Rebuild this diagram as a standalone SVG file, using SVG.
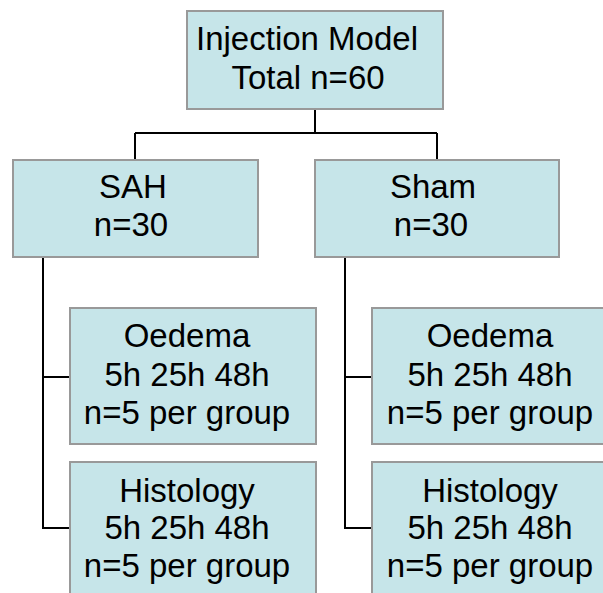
<svg xmlns="http://www.w3.org/2000/svg" width="603" height="593" viewBox="0 0 603 593">
<style>
.box{fill:#C6E5E9;stroke:#999999;stroke-width:2}
.t{font-family:"Liberation Sans",Arial,sans-serif;font-size:33px;fill:#000;text-anchor:middle}
.c{fill:none;stroke:#000;stroke-width:2}
</style>
<rect width="603" height="593" fill="#fff"/>
<g id="connectors">
<path class="c" d="M315,109 V133 M135,133 H437 M135,133 V160 M437,133 V160"/>
<path class="c" d="M43,257 V528 H70 M43,377 H70"/>
<path class="c" d="M345,257 V528 H372 M345,377 H372"/>
</g>
<g id="root">
<rect class="box" x="187" y="11" width="256" height="98"/>
<text class="t" x="307" y="50">Injection Model</text>
<text class="t" x="308" y="89">Total n=60</text>
</g>
<g id="sah">
<rect class="box" x="13" y="160" width="245" height="97"/>
<text class="t" x="133" y="198">SAH</text>
<text class="t" x="131" y="236">n=30</text>
</g>
<g id="sham">
<rect class="box" x="315" y="160" width="244" height="97"/>
<text class="t" x="433" y="198">Sham</text>
<text class="t" x="431" y="236">n=30</text>
</g>
<g id="sah-oedema">
<rect class="box" x="70" y="308" width="246" height="136"/>
<text class="t" x="187" y="347">Oedema</text>
<text class="t" x="187" y="386">5h 25h 48h</text>
<text class="t" x="187" y="424">n=5 per group</text>
</g>
<g id="sah-histology">
<rect class="box" x="70" y="462" width="246" height="140"/>
<text class="t" x="187" y="502">Histology</text>
<text class="t" x="187" y="539">5h 25h 48h</text>
<text class="t" x="187" y="577">n=5 per group</text>
</g>
<g id="sham-oedema">
<rect class="box" x="372" y="308" width="246" height="136"/>
<text class="t" x="490" y="347">Oedema</text>
<text class="t" x="490" y="386">5h 25h 48h</text>
<text class="t" x="490" y="424">n=5 per group</text>
</g>
<g id="sham-histology">
<rect class="box" x="372" y="462" width="246" height="140"/>
<text class="t" x="490" y="502">Histology</text>
<text class="t" x="490" y="539">5h 25h 48h</text>
<text class="t" x="490" y="577">n=5 per group</text>
</g>
</svg>
